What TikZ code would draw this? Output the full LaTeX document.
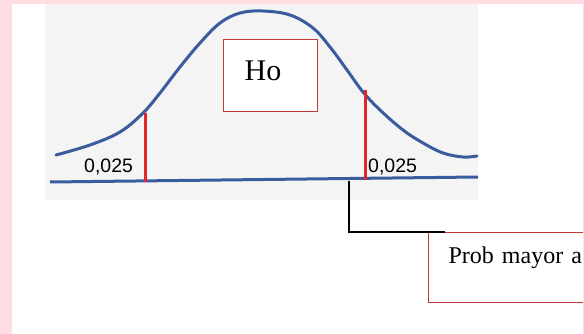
\documentclass[tikz,border=0pt]{standalone}
\usepackage{fontspec}
\setmainfont{Liberation Serif}
\newfontfamily\numfont{Liberation Sans}
\usepackage{tikz}
\usetikzlibrary{positioning,calc}

\definecolor{bgpink}{HTML}{FFDDE3}
\definecolor{panelgray}{HTML}{F4F4F4}
\definecolor{curveblue}{HTML}{3A5C9E}
\definecolor{cutred}{HTML}{E3262E}
\definecolor{boxred}{HTML}{C0393B}

\begin{document}
\begin{tikzpicture}[
    x=1pt, y=-1pt,
    curve/.style={curveblue, line width=3pt, line cap=round},
    cutline/.style={cutred, line width=3pt},
    tail/.style={inner sep=0pt, anchor=base west, font=\numfont\fontsize{19.5pt}{20pt}\selectfont},
    hbox/.style={draw=boxred, line width=1.3pt, fill=white, anchor=north west, minimum width=94pt, minimum height=72pt, text width=52pt, align=left, inner xsep=21pt, inner ysep=20pt, text height=20pt, text depth=10pt, font=\fontsize{30pt}{30pt}\selectfont},
    probbox/.style={draw=boxred, line width=1.3pt, fill=white, anchor=north west, minimum width=220pt, text width=180pt, align=left, inner xsep=20pt, inner ysep=14pt, text height=17pt, text depth=25pt, font=\fontsize{24pt}{24pt}\selectfont},
    link/.style={black, line width=1.3pt}
]

% Background
\fill[bgpink] (0,0) rectangle (584,334);
\fill[white] (12,4) rectangle (583,334);
\fill[panelgray] (45,4) rectangle (478,200);

% Curve and axis
\draw[curve] plot[smooth, tension=0.6] coordinates {(56,155) (90,145) (120,132) (143,113) (160,93) (180,67) (200,43) (220,23) (240,13) (263,11) (290,15) (313,28) (330,47) (347,70) (363,92) (380,110) (403,130) (423,143) (443,153) (463,157) (477,156)};
\coordinate (axl) at (50,182);
\coordinate (axr) at (478,177);
\draw[curve, line cap=butt] (axl) -- (axr);

% Critical values
\coordinate (lcut) at (145,182);
\coordinate (rcut) at (365,180);
\draw[cutline] (lcut) -- (145,113);
\draw[cutline] (rcut) -- (365,90);

\node[tail] (ltail) at (84,173) {0,025};
\node[tail] (rtail) at (368,173) {0,025};

% Hypothesis box
\node[hbox] (hyp) at (223,39) {Ho};

% Callout
\coordinate (foot) at (349,181);
\begin{scope}
\clip (12,4) rectangle (583,334);
\node[probbox] (prob) at (428,232) {Prob mayor a};
\end{scope}
\draw[link] (foot) |- ($(prob.north west)+(17,0)$);

\end{tikzpicture}
\end{document}
